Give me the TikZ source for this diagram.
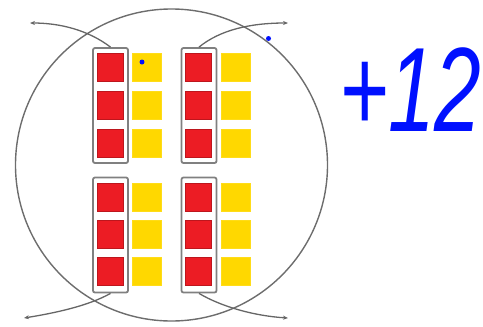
\documentclass[tikz,border=0pt]{standalone}
\usepackage{fontspec}
\setmainfont{Liberation Sans}
\usetikzlibrary{arrows.meta}
\definecolor{cred}{HTML}{EC1C24}
\definecolor{cyel}{HTML}{FFD800}
\definecolor{cgray}{HTML}{808080}
\definecolor{cblue}{HTML}{0010FF}
\tikzset{
  redsq/.style={fill=cred, draw=cred!80!black, line width=0.6pt, inner sep=0, minimum width=26pt, minimum height=28pt},
  yelsq/.style={fill=cyel, draw=cyel!90!white, line width=0.6pt, inner sep=0, minimum width=29pt, minimum height=28pt},
  barbox/.style={draw=cgray, line width=1.8pt, rounded corners=2pt, inner sep=0, minimum width=35pt, minimum height=115pt},
  link/.style={draw=cgray!80!black, line width=1.3pt, -{Stealth[length=5pt,width=4pt]}},
  bdot/.style={circle, fill=cblue, inner sep=0, minimum size=5pt}
}
\begin{document}
\begin{tikzpicture}[x=1pt,y=-1pt]
\useasboundingbox (0,0) rectangle (483,327);
% big circle
\node[draw=cgray!85!black, line width=1.4pt, circle, minimum size=312pt, inner sep=0] (circ) at (171.5,165) {};
% bars
\node[barbox] (b1) at (110.5,105.5) {};
\node[barbox] (b2) at (199,105.5) {};
\node[barbox] (b3) at (110.5,235) {};
\node[barbox] (b4) at (199,235) {};
% squares top
\foreach \y [count=\i] in {67,105,143}{
  \node[redsq] (r1\i) at (110,\y) {};
  \node[yelsq] (y1\i) at (147,\y) {};
  \node[redsq] (r2\i) at (198.5,\y) {};
  \node[yelsq] (y2\i) at (235.5,\y) {};
}
\foreach \y [count=\i] in {197.5,234,271.5}{
  \node[redsq] (r3\i) at (110,\y) {};
  \node[yelsq] (y3\i) at (147,\y) {};
  \node[redsq] (r4\i) at (198.5,\y) {};
  \node[yelsq] (y4\i) at (235.5,\y) {};
}
% free ends
\coordinate (e1) at (30,23);
\coordinate (e2) at (288,23);
\coordinate (e3) at (24,318);
\coordinate (e4) at (288,318);
\draw[link] (b1.north) .. controls (88,30) and (60,23) .. (e1);
\draw[link] (b2.north) .. controls (220,30) and (250,23) .. (e2);
\draw[link] (b3.south) .. controls (88,306) and (55,313) .. (e3);
\draw[link] (b4.south) .. controls (222,307) and (255,316) .. (e4);
% blue dots
\node[bdot] (d1) at (142,62) {};
\node[bdot] (d2) at (268.5,38.5) {};
% text
\node[text=cblue, anchor=base west, inner sep=0] (t) at (339,131) {\fontsize{120}{120}\selectfont\scalebox{0.7}[1]{\textit{+12}}};
\end{tikzpicture}
\end{document}
